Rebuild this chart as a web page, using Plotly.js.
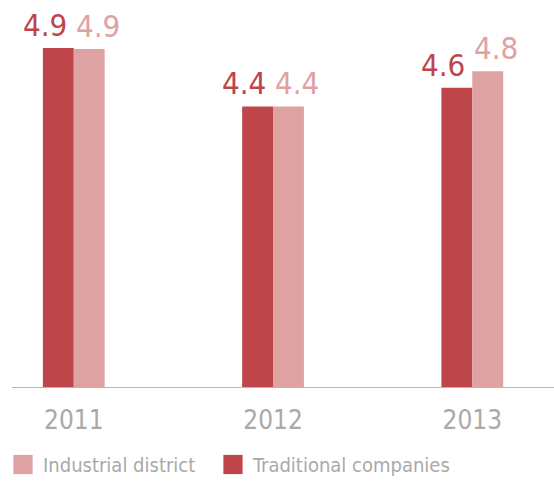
<!DOCTYPE html>
<html>
<head>
<meta charset="utf-8">
<script src="https://cdn.plot.ly/plotly-3.0.1.min.js"></script>
<style>html,body{margin:0;padding:0;background:#fff;}#chart{width:554px;height:484px;}</style>
</head>
<body>
<div id="chart"></div>
<script>
var years = ['2011', '2012', '2013'];
var traditionalValues = [4.9, 4.4, 4.56];
var traditionalLabels = ['4.9', '4.4', '4.6'];
var districtValues = [4.89, 4.4, 4.7];
var districtLabels = ['4.9', '4.4', '4.8'];

var darkRed = '#be454a';
var lightRed = '#dfa2a3';
var fontFam = '"DejaVu Sans Condensed", "DejaVu Sans", sans-serif';

var traces = [
  {
    type: 'bar', name: 'Traditional companies', x: years, y: traditionalValues,
    textposition: 'none', marker: {color: darkRed}, hoverinfo: 'skip', legend: 'legend2'
  },
  {
    type: 'bar', name: 'Industrial district', x: years, y: districtValues,
    textposition: 'none', marker: {color: lightRed}, hoverinfo: 'skip', legend: 'legend'
  }
];

// value labels placed at each category (by index) and each bar's value
function valueLabels(values, labels, color, shift) {
  return years.map(function (yr, i) {
    return {
      x: i, y: values[i], xref: 'x', yref: 'y', text: labels[i],
      showarrow: false, xanchor: 'center', yanchor: 'bottom',
      xshift: shift, yshift: 3,
      font: {family: fontFam, size: 31, color: color}
    };
  });
}

var legendFont = {family: fontFam, size: 20, color: '#a9a9a9'};

var layout = {
  width: 554, height: 484,
  margin: {l: 12, r: 0, t: 0, b: 96},
  paper_bgcolor: '#fff', plot_bgcolor: '#fff',
  barmode: 'group', bargap: 0.69, bargroupgap: 0,
  font: {family: fontFam, color: '#a9a9a9'},
  xaxis: {
    type: 'category', range: [-0.31, 2.41],
    showline: true, linecolor: '#b8b8b8', linewidth: 1,
    showgrid: false, zeroline: false, ticks: '', ticklabelstandoff: 10,
    tickfont: {family: fontFam, size: 26, color: '#a9a9a9'}
  },
  yaxis: {
    range: [2, 5.31], visible: false, showgrid: false, zeroline: false, fixedrange: true
  },
  annotations: valueLabels(traditionalValues, traditionalLabels, darkRed, -29)
    .concat(valueLabels(districtValues, districtLabels, lightRed, 24)),
  showlegend: true,
  legend: {
    orientation: 'h', x: -0.0166, xanchor: 'left', y: -0.2, yanchor: 'middle',
    font: legendFont, bgcolor: 'rgba(0,0,0,0)'
  },
  legend2: {
    orientation: 'h', x: 0.3708, xanchor: 'left', y: -0.2, yanchor: 'middle',
    font: legendFont, bgcolor: 'rgba(0,0,0,0)'
  }
};

Plotly.newPlot('chart', traces, layout, {displayModeBar: false, staticPlot: true}).then(function () {
  document.querySelectorAll('.legendpoints path').forEach(function (p) {
    var t = p.getAttribute('transform') || '';
    p.setAttribute('transform', t + ' scale(1.6)');
  });
});
</script>
</body>
</html>
